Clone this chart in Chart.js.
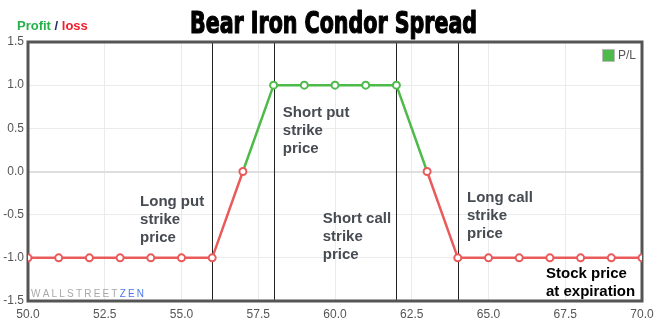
<!DOCTYPE html>
<html>
<head>
<meta charset="utf-8">
<script src="https://cdn.jsdelivr.net/npm/chart.js@4"></script>
<style>
  html, body { margin: 0; padding: 0; background: #fff; }
  #wrap { width: 664px; height: 332px; }
</style>
</head>
<body>
<div id="wrap"><canvas id="c" width="664" height="332"></canvas></div>
<script>
// Stock price at expiration and resulting profit/loss of the position
const prices = [50, 51, 52, 53, 54, 55, 56, 57, 58, 59, 60, 61, 62, 63, 64, 65, 66, 67, 68, 69, 70];
const pl     = [-1, -1, -1, -1, -1, -1, -1, 0, 1, 1, 1, 1, 1, 0, -1, -1, -1, -1, -1, -1, -1];

// Strike prices of the four legs (marked with vertical lines)
const strikes = [56, 58, 62, 64];

// Leg annotations: [price, P/L level, lines]
const legNotes = [
  { x: 53.65, y: -0.35, lines: ['Long put', 'strike', 'price'] },
  { x: 58.3, y: 0.68, lines: ['Short put', 'strike', 'price'] },
  { x: 59.6, y: -0.55, lines: ['Short call', 'strike', 'price'] },
  { x: 64.3, y: -0.3, lines: ['Long call', 'strike', 'price'] }
];

const titleText = 'Bear Iron Condor Spread';
const xAxisNote = ['Stock price', 'at expiration'];

const GREEN = '#4dba4a';
const RED = '#ea5a5a';
const points = prices.map((p, i) => ({ x: p, y: pl[i] }));

const overlay = {
  id: 'overlay',
  beforeDatasetsDraw(chart) {
    const { ctx, chartArea: a, scales } = chart;
    ctx.save();
    // strike lines
    ctx.strokeStyle = '#222';
    ctx.lineWidth = 1;
    strikes.forEach(s => {
      const px = Math.round(scales.x.getPixelForValue(s)) + 0.5;
      ctx.beginPath();
      ctx.moveTo(px, a.top);
      ctx.lineTo(px, a.bottom);
      ctx.stroke();
    });
    // watermark
    ctx.font = '10px "Liberation Sans", Arial, sans-serif';
    ctx.textBaseline = 'middle';
    ctx.textAlign = 'left';
    let wx = a.left + 3;
    const wy = a.bottom - 7;
    const mark = 'WALLSTREETZEN';
    for (let i = 0; i < mark.length; i++) {
      ctx.fillStyle = i < 10 ? '#a9a9a9' : '#4a78f0';
      ctx.fillText(mark[i], wx, wy);
      wx += ctx.measureText(mark[i]).width + 2.2;
    }
    // plot frame
    ctx.strokeStyle = '#555';
    ctx.lineWidth = 3;
    ctx.strokeRect(a.left, a.top, a.right - a.left, a.bottom - a.top);
    ctx.restore();
  },
  afterDraw(chart) {
    const { ctx, chartArea: a, scales } = chart;
    ctx.save();
    // title, condensed and heavy
    ctx.font = 'bold 30px "DejaVu Sans Condensed", "DejaVu Sans", sans-serif';
    ctx.textBaseline = 'alphabetic';
    ctx.textAlign = 'left';
    const tw = ctx.measureText(titleText).width;
    const targetW = 287;
    ctx.translate(190, 33);
    ctx.scale(targetW / tw, 1);
    ctx.fillStyle = '#000';
    ctx.strokeStyle = '#000';
    ctx.lineWidth = 1.2;
    ctx.lineJoin = 'round';
    ctx.fillText(titleText, 0, 0);
    ctx.strokeText(titleText, 0, 0);
    ctx.setTransform(1, 0, 0, 1, 0, 0);

    // Profit / loss caption
    ctx.font = 'bold 13px "Liberation Sans", Arial, sans-serif';
    ctx.textBaseline = 'middle';
    let px = 17;
    const py = 26;
    [['Profit', '#27b04a'], [' / ', '#1d2b5e'], ['loss', '#f21c2a']].forEach(([t, c]) => {
      ctx.fillStyle = c;
      ctx.fillText(t, px, py);
      px += ctx.measureText(t).width;
    });

    // legend
    const ds = chart.data.datasets[0];
    ctx.fillStyle = GREEN;
    ctx.fillRect(602, 49, 12, 12);
    ctx.strokeStyle = '#bbb';
    ctx.lineWidth = 1;
    ctx.strokeRect(602.5, 49.5, 12, 12);
    ctx.font = '12px "Liberation Sans", Arial, sans-serif';
    ctx.fillStyle = '#555';
    ctx.fillText(ds.label, 618, 56);

    // leg annotations
    ctx.font = 'bold 15px "Liberation Sans", Arial, sans-serif';
    ctx.fillStyle = '#474b52';
    legNotes.forEach(n => {
      const nx = scales.x.getPixelForValue(n.x);
      const ny = scales.y.getPixelForValue(n.y);
      n.lines.forEach((l, i) => ctx.fillText(l, nx, ny + i * 18));
    });

    // x axis note
    ctx.fillStyle = '#000';
    xAxisNote.forEach((l, i) => ctx.fillText(l, 546, 274 + i * 18));
    ctx.restore();
  }
};

new Chart(document.getElementById('c'), {
  type: 'line',
  data: {
    datasets: [{
      label: 'P/L',
      data: points,
      borderWidth: 2.5,
      tension: 0,
      pointRadius: 3.5,
      pointHoverRadius: 3.5,
      pointBorderWidth: 2,
      pointBackgroundColor: '#fff',
      pointBorderColor: ctx => (ctx.raw && ctx.raw.y > 0 ? GREEN : RED),
      borderColor: RED,
      segment: {
        borderColor: ctx => (ctx.p0.parsed.y + ctx.p1.parsed.y > 0 ? GREEN : RED)
      }
    }]
  },
  plugins: [overlay],
  options: {
    responsive: false,
    animation: false,
    layout: { padding: { top: 42, right: 22, left: 0, bottom: 0 } },
    plugins: { legend: { display: false }, tooltip: { enabled: false } },
    scales: {
      x: {
        type: 'linear',
        min: 50,
        max: 70,
        border: { display: false },
        grid: { color: '#ebebeb', drawTicks: false },
        ticks: {
          stepSize: 2.5,
          padding: 6,
          color: '#555',
          font: { family: '"Liberation Sans", Arial, sans-serif', size: 12 },
          callback: v => v.toFixed(1),
          maxRotation: 0
        },
        afterFit: s => { s.height = 31; }
      },
      y: {
        min: -1.5,
        max: 1.5,
        border: { display: false },
        grid: {
          color: c => (c.tick && c.tick.value === 0 ? '#dedede' : '#ebebeb'),
          lineWidth: c => (c.tick && c.tick.value === 0 ? 2 : 1),
          drawTicks: false
        },
        ticks: {
          stepSize: 0.5,
          padding: 4,
          color: '#555',
          font: { family: '"Liberation Sans", Arial, sans-serif', size: 12 },
          callback: v => v.toFixed(1)
        },
        afterFit: s => { s.width = 28; }
      }
    }
  }
});
</script>
</body>
</html>
